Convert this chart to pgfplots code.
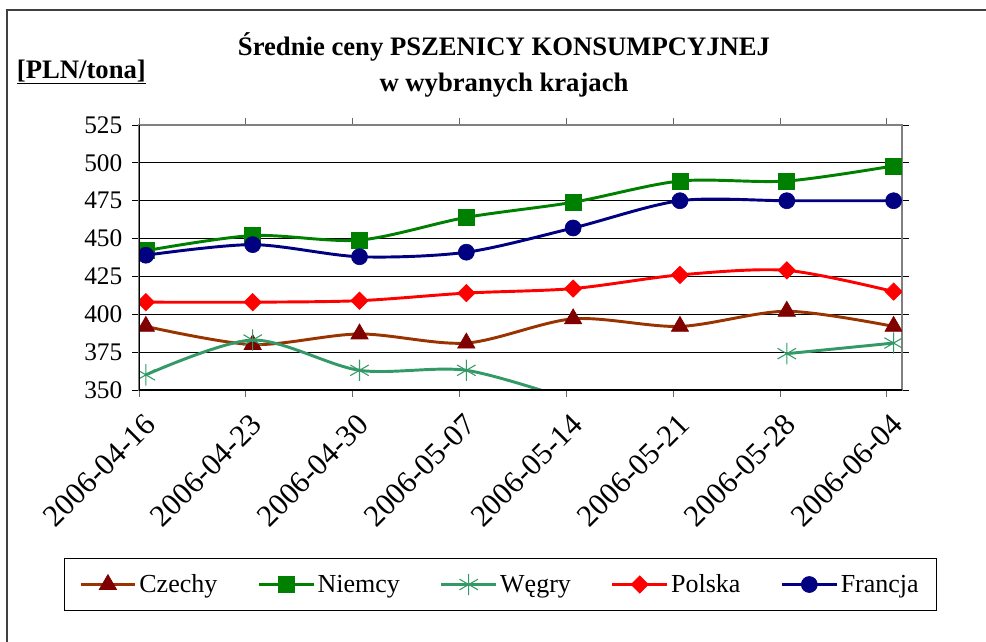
\documentclass[border=0pt]{standalone}
\usepackage{pgfplots}
\pgfplotsset{compat=1.18}
\usepackage{pgfplotstable}
\usepackage{fontspec}
\setmainfont{Liberation Serif}
\definecolor{czline}{HTML}{993300}
\definecolor{czmark}{HTML}{800000}
\definecolor{nigreen}{HTML}{008000}
\definecolor{wegreen}{HTML}{339966}
\definecolor{pored}{HTML}{FF0000}
\definecolor{frnavy}{HTML}{000080}
\pgfplotstableread{
x Cz Ni We Po Fr
0.45 392 442 360 408 439
7.45 380 452 383 408 446
14.45 387 449 363 409 438
21.45 381 464 363 414 441
28.45 397 474 343 417 457
35.45 392 488 nan 426 475
42.45 402 488 374 429 475
49.45 392 498 381 415 475
}\prices
\begin{document}
\begin{tikzpicture}
\path[use as bounding box] (0pt,0pt) rectangle (739.5pt,-481.5pt);
\draw[line width=1.5pt, black!75] (5.25pt,-481.5pt) -- (5.25pt,-7.5pt) -- (739.5pt,-7.5pt);
\node[font=\fontsize{20}{23}\selectfont\bfseries] at (378pt,-35pt) {Średnie ceny PSZENICY KONSUMPCYJNEJ};
\node[font=\fontsize{20}{23}\selectfont\bfseries] at (378pt,-64pt) {w wybranych krajach};
\node[font=\fontsize{20}{23}\selectfont\bfseries, anchor=west, inner sep=0pt] at (12.5pt,-54pt) {\underline{[PLN/tona]}};
\begin{axis}[
  at={(104.25pt,-292.5pt)}, anchor=south west,
  scale only axis, width=572.25pt, height=198.75pt,
  xmin=0, xmax=50, ymin=350, ymax=525,
  ytick={350,375,...,525},
  xtick={0,7,...,49},
  xticklabels={2006-04-16,2006-04-23,2006-04-30,2006-05-07,2006-05-14,2006-05-21,2006-05-28,2006-06-04},
  tick align=outside, major tick length=5pt,
  tick style={black, line width=0.6pt},
  xtick style={black!60},
  /pgf/number format/assume math mode=true,
  ticklabel style={font=\fontsize{19}{21}\selectfont},
  yticklabel style={xshift=-4pt},
  xticklabel style={rotate=45, anchor=east, xshift=-3pt, yshift=-18pt, font=\fontsize{23}{25}\selectfont},
  ymajorgrids, grid style={black, line width=0.6pt},
  axis line style={black!50, line width=0.8pt},
  clip marker paths=true,
  unbounded coords=jump,
  legend columns=5,
  legend style={at={(0.4735,-0.734)}, anchor=center, draw=black, line width=0.75pt,
    font=\fontsize{19.5}{21}\selectfont, inner xsep=11pt, inner ysep=10pt,
    /tikz/every even column/.append style={column sep=28pt}},
  legend cell align=left,
  legend image code/.code={\draw[#1, mark repeat=2, mark phase=2] plot coordinates {(0pt,0pt) (20.5pt,0pt) (41pt,0pt)};},
  every axis plot/.append style={line width=2.2pt, smooth},
]
\addplot[czline, mark=triangle*, mark size=7.5pt, mark options={fill=czmark, draw=czmark, line width=0.5pt}] table[x=x, y=Cz] {\prices};
\addlegendentry{Czechy}
\addplot[nigreen, mark=square*, mark size=6pt, mark options={fill=nigreen, line width=0.5pt}] table[x=x, y=Ni] {\prices};
\addlegendentry{Niemcy}
\addplot[wegreen, mark=asterisk, mark size=8pt, mark options={line width=0.8pt}] table[x=x, y=We] {\prices};
\addlegendentry{Węgry}
\addplot[pored, mark=square*, mark size=4.6pt, mark options={rotate=45, fill=pored, line width=0.5pt}] table[x=x, y=Po] {\prices};
\addlegendentry{Polska}
\addplot[frnavy, mark=*, mark size=6pt, mark options={fill=frnavy, line width=0.5pt}] table[x=x, y=Fr] {\prices};
\addlegendentry{Francja}
\draw[black, line width=0.8pt] (rel axis cs:0,0) -- (rel axis cs:0,1);
\draw[black, line width=0.8pt] (rel axis cs:0,0) -- (rel axis cs:1,0);
\end{axis}
\end{tikzpicture}
\end{document}
